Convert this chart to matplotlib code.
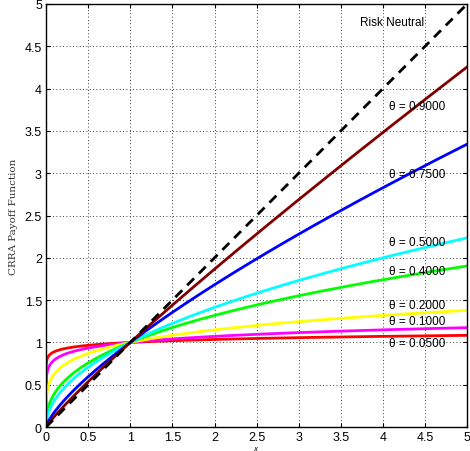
import numpy as np
import matplotlib
matplotlib.use("Agg")
import matplotlib.pyplot as plt

plt.rcParams['font.family'] = ['Liberation Sans', 'DejaVu Sans']

# Risk-aversion parameters of the CRRA payoff x**theta
thetas = [0.05, 0.10, 0.20, 0.40, 0.50, 0.75, 0.90]
colors = ['#ff0000', '#ff00ff', '#ffff00', '#00ff00', '#00ffff', '#0000ff', '#800000']
label_y = [0.99, 1.25, 1.44, 1.84, 2.19, 2.99, 3.79]
x_ticks = [0, 0.5, 1, 1.5, 2, 2.5, 3, 3.5, 4, 4.5, 5]
y_ticks = [0, 0.5, 1, 1.5, 2, 2.5, 3, 3.5, 4, 4.5, 5]

x = np.linspace(0, 5, 2001)

fig = plt.figure(figsize=(4.70, 4.52), dpi=100)
ax = fig.add_axes([0.098, 0.053, 0.896, 0.936])

ax.plot(x, x, color='black', lw=2, ls=(0, (3.5, 2.5)), zorder=3)
for th, c in zip(thetas, colors):
    ax.plot(x, x ** th, color=c, lw=2, zorder=2)

ax.set_xlim(0, 5)
ax.set_ylim(0, 5)
ax.set_xticks(x_ticks)
ax.set_yticks(y_ticks)
ax.set_xticklabels([f"{t:g}" for t in x_ticks])
ax.set_yticklabels([f"{t:g}" for t in y_ticks])
ax.grid(True, color='black', ls=(0, (1, 3)), lw=0.6)
ax.tick_params(direction='in', top=True, right=True, labelsize=9, length=3, pad=3)
for s in ax.spines.values():
    s.set_linewidth(1.0)

ax.text(4.11, 4.79, 'Risk Neutral', fontsize=8.5, ha='center', va='center')
for th, ly in zip(thetas, label_y):
    ax.text(4.07, ly, f'θ = {th:.4f}', fontsize=8.5, ha='left', va='center')

ax.set_xlabel(r'$x$', fontsize=5, family='serif', va='center')
ax.xaxis.set_label_coords(0.5, -0.0495)
ax.set_ylabel('CRRA Payoff Function', fontsize=7.5, family='DejaVu Serif',
              color='#333333', labelpad=5)

fig.savefig('out.png', dpi=100)
